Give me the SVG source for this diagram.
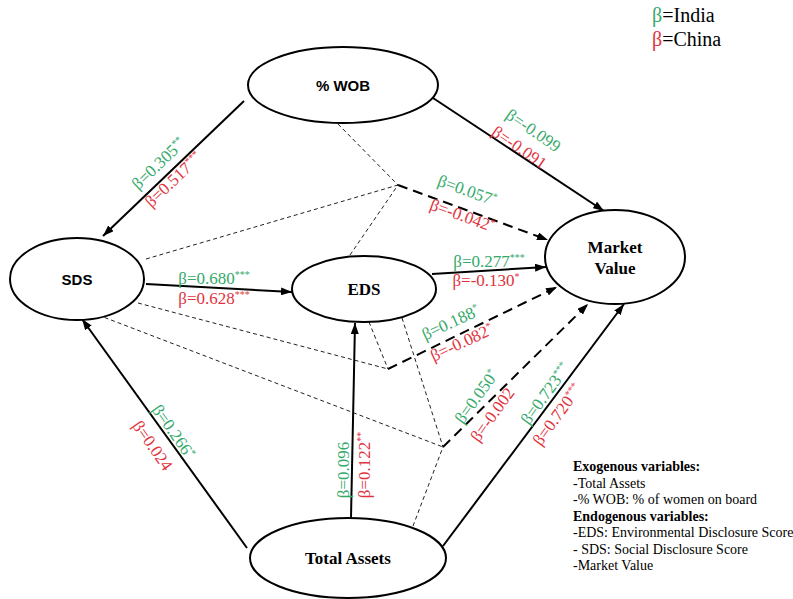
<svg xmlns="http://www.w3.org/2000/svg" width="793" height="599" viewBox="0 0 793 599">
<style>
.node{fill:#fff;stroke:#000;stroke-width:2}
.sans{font-family:"Liberation Sans",Arial,sans-serif;font-weight:bold;font-size:15px}
.serifb{font-family:"Liberation Serif","Times New Roman",serif;font-weight:bold;font-size:17px}
.lbl{font-family:"Liberation Serif","Times New Roman",serif;font-size:17px;text-anchor:middle}
.g{fill:#34a96a}
.r{fill:#df3440}
.sup{font-size:10px}
.solid{stroke:#000;stroke-width:2;fill:none;marker-end:url(#ah)}
.thin{stroke:#222;stroke-width:1;fill:none;stroke-dasharray:4 3}
.thick{stroke:#000;stroke-width:2;fill:none;stroke-dasharray:10 6;marker-end:url(#ah)}
.leg{font-family:"Liberation Serif","Times New Roman",serif;font-size:14px;fill:#000}
</style>
<defs>
<marker id="ah" viewBox="0 0 11 8" refX="11" refY="4" markerWidth="11" markerHeight="8" markerUnits="userSpaceOnUse" orient="auto">
<path d="M0,0 L11,4 L0,8 Z" fill="#000"/>
</marker>
</defs>
<rect width="793" height="599" fill="#fff"/>
<g id="connectors">
<line class="thin" x1="338" y1="124" x2="398" y2="185"/>
<line class="thin" x1="146" y1="259" x2="398" y2="185"/>
<line class="thin" x1="350" y1="255" x2="398" y2="185"/>
<line class="thin" x1="138" y1="303" x2="388" y2="369"/>
<line class="thin" x1="369" y1="322" x2="388" y2="369"/>
<line class="thin" x1="98" y1="315" x2="443" y2="447"/>
<line class="thin" x1="402" y1="318" x2="443" y2="447"/>
<line class="thin" x1="413" y1="526" x2="443" y2="447"/>
<line class="thick" x1="398" y1="185" x2="548" y2="240"/>
<line class="thick" x1="388" y1="369" x2="557" y2="287"/>
<line class="thick" x1="443" y1="447" x2="588" y2="304"/>
<line class="solid" x1="244" y1="101" x2="103" y2="236"/>
<line class="solid" x1="433" y1="98" x2="604" y2="211"/>
<line class="solid" x1="146" y1="284" x2="292" y2="292"/>
<line class="solid" x1="432" y1="274" x2="546" y2="267"/>
<line class="solid" x1="351" y1="518" x2="355" y2="323"/>
<line class="solid" x1="247" y1="548" x2="82" y2="319"/>
<line class="solid" x1="443" y1="546" x2="624" y2="304"/>
</g>
<g id="labels">
<g transform="translate(159,164) rotate(-43.6)"><text class="lbl g" y="5">β=0.305<tspan class="sup" dy="-6">**</tspan></text></g>
<g transform="translate(174,180) rotate(-43.6)"><text class="lbl r" y="5">β=0.517<tspan class="sup" dy="-6">***</tspan></text></g>
<g transform="translate(533,131) rotate(34.6)"><text class="lbl g" y="5">β=-0.099</text></g>
<g transform="translate(519,148) rotate(34.6)"><text class="lbl r" y="5">β=-0.091</text></g>
<g transform="translate(467,191) rotate(20)"><text class="lbl g" y="5">β=0.057<tspan class="sup" dy="-6">*</tspan></text></g>
<g transform="translate(462,216) rotate(20)"><text class="lbl r" y="5">β=-0.042<tspan class="sup" dy="-6">*</tspan></text></g>
<text class="lbl g" x="489" y="267">β=0.277<tspan class="sup" dy="-6">***</tspan></text>
<text class="lbl r" x="486" y="286">β=-0.130<tspan class="sup" dy="-6">*</tspan></text>
<text class="lbl g" x="214" y="284">β=0.680<tspan class="sup" dy="-6">***</tspan></text>
<text class="lbl r" x="214" y="304">β=0.628<tspan class="sup" dy="-6">***</tspan></text>
<g transform="translate(451,323) rotate(-25)"><text class="lbl g" y="5">β=0.188<tspan class="sup" dy="-6">*</tspan></text></g>
<g transform="translate(462,343) rotate(-25)"><text class="lbl r" y="5">β=-0.082<tspan class="sup" dy="-6">*</tspan></text></g>
<g transform="translate(477,397) rotate(-54)"><text class="lbl g" y="5">β=0.050<tspan class="sup" dy="-6">*</tspan></text></g>
<g transform="translate(493,415) rotate(-54)"><text class="lbl r" y="5">β=-0.002</text></g>
<g transform="translate(546,394) rotate(-54)"><text class="lbl g" y="5">β=0.723<tspan class="sup" dy="-6">***</tspan></text></g>
<g transform="translate(558,415) rotate(-54)"><text class="lbl r" y="5">β=0.720<tspan class="sup" dy="-6">***</tspan></text></g>
<g transform="translate(173,432) rotate(55)"><text class="lbl g" y="5">β=0.266<tspan class="sup" dy="-6">*</tspan></text></g>
<g transform="translate(152,446) rotate(55)"><text class="lbl r" y="5">β=0.024</text></g>
<g transform="translate(344,470) rotate(-90)"><text class="lbl g" y="5">β=0.096</text></g>
<g transform="translate(365,465) rotate(-90)"><text class="lbl r" y="5">β=0.122<tspan class="sup" dy="-6">**</tspan></text></g>
</g>
<g id="wob"><ellipse class="node" cx="343" cy="85" rx="95" ry="38"/><text class="sans" x="343" y="91" text-anchor="middle" font-size="16">% WOB</text></g>
<g id="sds"><ellipse class="node" cx="77" cy="279" rx="67" ry="41"/><text class="sans" x="77" y="285" text-anchor="middle">SDS</text></g>
<g id="eds"><ellipse class="node" cx="364" cy="289" rx="72" ry="33"/><text class="serifb" x="364" y="295" text-anchor="middle">EDS</text></g>
<g id="mv"><ellipse class="node" cx="615" cy="257" rx="70" ry="47"/><text class="serifb" x="615" y="253" text-anchor="middle">Market</text><text class="serifb" x="615" y="274" text-anchor="middle">Value</text></g>
<g id="ta"><ellipse class="node" cx="348" cy="558" rx="98" ry="40"/><text class="serifb" x="348" y="564" text-anchor="middle" font-size="17.5">Total Assets</text></g>
<g id="legend-top" font-family="'Liberation Serif','Times New Roman',serif" font-size="20">
<text x="652" y="22"><tspan class="g">β</tspan>=India</text>
<text x="652" y="46"><tspan class="r">β</tspan>=China</text>
</g>
<g id="legend-bottom">
<text class="leg" x="573" y="471" font-weight="bold">Exogenous variables:</text>
<text class="leg" x="573" y="488">-Total Assets</text>
<text class="leg" x="573" y="504">-% WOB: % of women on board</text>
<text class="leg" x="573" y="521" font-weight="bold">Endogenous variables:</text>
<text class="leg" x="573" y="537">-EDS: Environmental Disclosure Score</text>
<text class="leg" x="573" y="554">- SDS: Social Disclosure Score</text>
<text class="leg" x="573" y="570">-Market Value</text>
</g>
</svg>
